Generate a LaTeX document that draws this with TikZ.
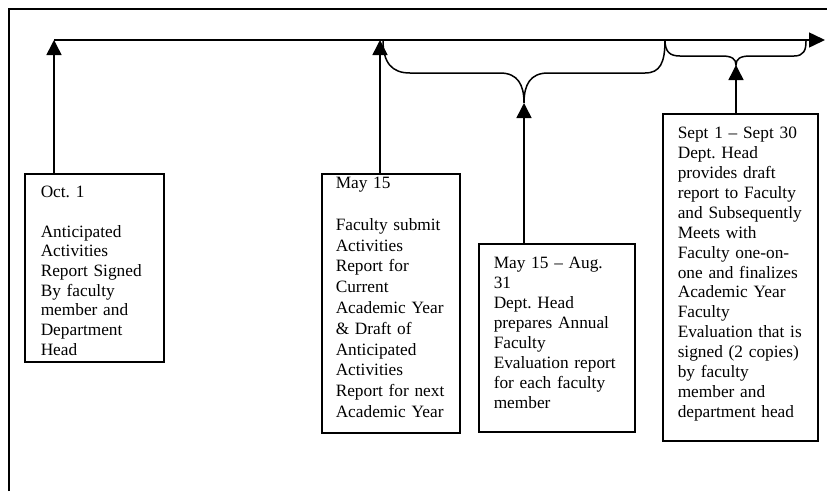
\documentclass[tikz,border=0pt]{standalone}
\usepackage{fontspec}
\setmainfont{Liberation Serif}
\usetikzlibrary{arrows.meta,calc}

\tikzset{
  stage/.style={draw, line width=1.5pt, anchor=north west, align=left,
    inner xsep=15pt, inner ysep=0pt},
  link/.style={line width=1.5pt, -{Triangle[width=15pt,length=15pt]}},
  brace/.style={line width=1.5pt},
}

\begin{document}
\begin{tikzpicture}[x=1pt,y=-1pt]
    \useasboundingbox (0,0) rectangle (827,491);
    % frame (only top and left edge fall inside)
    \draw[line width=2pt] (9,491) -- (9,9) -- (827,9);

    % time line
    \coordinate (octmark) at (54,40);
    \coordinate (maymark) at (380,40);
    \coordinate (tlend) at (825,40);
    \coordinate (evaltip) at (524,103);
    \coordinate (meettip) at (736,65);
    \draw[link, -{Triangle[width=15pt,length=16pt]}] (octmark) -- (tlend);

    % braces under the line
    \draw[brace] (383,40) .. controls (383,63) and (392,73) .. (410,73) -- (500,73)
        .. controls (518,73) and (524,85) .. (evaltip)
        .. controls (524,85) and (530,73) .. (548,73) -- (645,73)
        .. controls (660,73) and (665,63) .. (665,40);
    \draw[brace] (665,40) .. controls (665,52) and (670,56) .. (680,56) -- (722,56)
        .. controls (732,56) and (736,59) .. (meettip)
        .. controls (736,59) and (740,56) .. (750,56) -- (794,56)
        .. controls (804,56) and (806,50) .. (806,41);

    % the four stages
    \node[stage, inner xsep=16pt, text width=107pt, text height=24pt, text depth=164pt,
          font=\fontsize{17.3}{19.7}\selectfont] (oct) at (24,173)
        {Oct.\ 1\\[19.7pt]
         Anticipated\\ Activities\\ Report Signed\\ By faculty\\ member and\\
         Department\\ Head};
    \node[stage, inner xsep=14pt, text width=110pt, text height=15pt, text depth=244pt,
          font=\fontsize{17.3}{20.8}\selectfont] (may) at (321,173)
        {May 15\\[20.8pt]
         Faculty submit\\ Activities\\ Report for\\ Current\\ Academic Year\\
         \& Draft of\\ Anticipated\\ Activities\\ Report for next\\ Academic Year};
    \node[stage, text width=126pt, text height=25pt, text depth=163pt,
          font=\fontsize{17.3}{20}\selectfont] (eval) at (478,243)
        {May 15 -- Aug.\\ 31\\ Dept.\ Head\\ prepares Annual\\ Faculty\\
         Evaluation report\\ for each faculty\\ member};
    \node[stage, text width=125pt, text height=25pt, text depth=302pt,
          font=\fontsize{17.3}{19.9}\selectfont] (meet) at (662,113)
        {Sept 1 -- Sept 30\\ Dept.\ Head\\ provides draft\\ report to Faculty\\
         and Subsequently\\ Meets with\\ Faculty one-on-\\ one and finalizes\\
         Academic Year\\ Faculty\\ Evaluation that is\\ signed (2 copies)\\
         by faculty\\ member and\\ department head};

    % arrows up to the time line
    \draw[link] (octmark |- oct.north) -- (octmark);
    \draw[link] (maymark |- may.north) -- (maymark);
    \draw[link] (evaltip |- eval.north) -- (evaltip);
    \draw[link] (meettip |- meet.north) -- (meettip);
\end{tikzpicture}
\end{document}
